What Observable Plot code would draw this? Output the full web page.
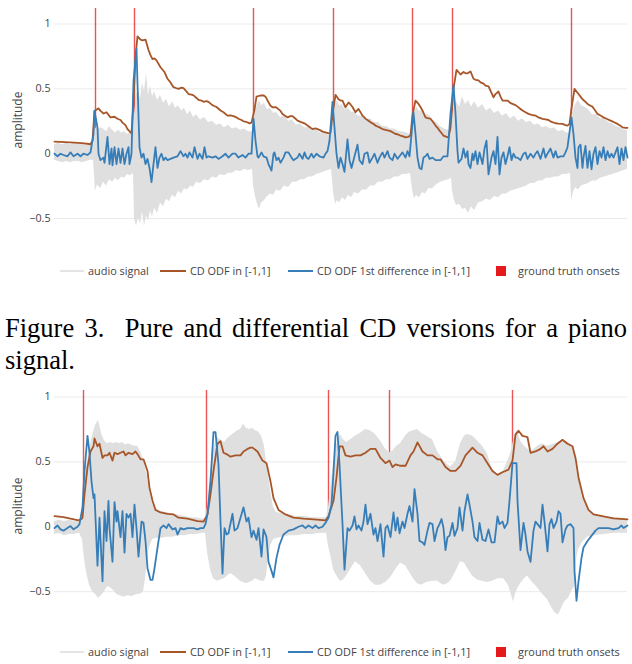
<!DOCTYPE html>
<html>
<head>
<meta charset="utf-8">
<script src="https://cdn.jsdelivr.net/npm/d3@7"></script>
<script src="https://cdn.jsdelivr.net/npm/@observablehq/plot@0.6"></script>
<style>
  html, body { margin: 0; padding: 0; background: #fff; }
  #page { position: relative; width: 632px; height: 664px; overflow: hidden; background: #fff; }
  .abs { position: absolute; left: 0; }
  .legend { position: absolute; left: 0; width: 632px; height: 16px; font-family: "Open Sans", sans-serif; font-size: 10.9px; color: #444; }
  .legend .sw { position: absolute; top: 7px; height: 2px; }
  .legend .sq { position: absolute; top: 3px; width: 10px; height: 10px; }
  .legend .tx { position: absolute; top: 0; line-height: 16px; white-space: nowrap; }
  #caption { position: absolute; left: 5px; width: 622px; font-family: "Liberation Serif", "Times New Roman", serif; font-size: 26.5px; line-height: 32px; text-align: justify; color: #000; }
</style>
</head>
<body>
<div id="page">
  <div id="p1" class="abs" style="top:0"></div>
  <div id="leg1" class="legend" style="top:263px"></div>
  <div id="caption" style="top:312px">Figure 3.&nbsp; Pure and differential CD versions for a piano signal.</div>
  <div id="p2" class="abs" style="top:380px"></div>
  <div id="leg2" class="legend" style="top:644px"></div>
</div>
<script>
// ---------- legend / tick labels ----------
const seriesNames = ["audio signal", "CD ODF in [-1,1]", "CD ODF 1st difference in [-1,1]", "ground truth onsets"];
const yTicks = [-0.5, 0, 0.5, 1];
const yLabel = "amplitude";

// ---------- panel 1 (piano) : frame index t, amplitude ----------
const onsets1 = [41, 80, 199, 279, 358, 398, 517];
const odf1 = [[0,0.093],[10,0.09],[20,0.085],[30,0.08],[36,0.073],[38,0.10],[40,0.33],[44,0.35],[46,0.33],[49,0.31],[52,0.32],[56,0.28],[60,0.285],[63,0.27],[66,0.26],[68,0.24],[71,0.22],[73,0.19],[77,0.157],[79,0.40],[81,0.75],[83,0.905],[86,0.88],[88,0.874],[91,0.88],[94,0.80],[96,0.76],[98,0.73],[100,0.735],[102,0.72],[106,0.667],[110,0.63],[113,0.578],[116,0.55],[119,0.513],[122,0.505],[124,0.50],[127,0.51],[129,0.506],[132,0.48],[134,0.46],[137,0.455],[139,0.45],[142,0.43],[144,0.415],[147,0.41],[149,0.40],[152,0.405],[154,0.40],[157,0.38],[159,0.37],[162,0.36],[166,0.333],[169,0.32],[173,0.294],[176,0.295],[179,0.29],[182,0.28],[184,0.27],[187,0.26],[189,0.25],[192,0.245],[195,0.234],[197,0.24],[200,0.34],[202,0.44],[206,0.449],[209,0.45],[211,0.44],[214,0.397],[216,0.37],[218,0.358],[221,0.36],[223,0.35],[226,0.33],[228,0.307],[231,0.29],[233,0.28],[236,0.29],[238,0.29],[241,0.27],[243,0.255],[246,0.245],[248,0.24],[251,0.23],[253,0.217],[256,0.2],[258,0.19],[261,0.195],[263,0.19],[266,0.18],[268,0.17],[271,0.165],[274,0.157],[276,0.16],[278,0.3],[281,0.454],[284,0.42],[286,0.41],[288,0.41],[291,0.358],[294,0.395],[296,0.38],[298,0.36],[301,0.32],[304,0.345],[306,0.32],[308,0.294],[311,0.27],[313,0.26],[316,0.242],[318,0.235],[321,0.217],[323,0.21],[326,0.199],[328,0.19],[331,0.183],[333,0.18],[336,0.174],[338,0.165],[341,0.152],[343,0.15],[346,0.14],[348,0.135],[351,0.126],[354,0.13],[356,0.14],[358,0.3],[361,0.41],[364,0.384],[366,0.36],[368,0.333],[371,0.28],[373,0.275],[376,0.27],[378,0.25],[381,0.217],[383,0.2],[385,0.178],[387,0.16],[389,0.139],[392,0.13],[394,0.126],[396,0.2],[399,0.50],[402,0.647],[404,0.63],[406,0.611],[409,0.63],[411,0.62],[413,0.62],[416,0.635],[419,0.578],[421,0.57],[424,0.565],[426,0.55],[429,0.54],[431,0.525],[434,0.52],[437,0.47],[439,0.435],[441,0.46],[444,0.48],[446,0.44],[448,0.41],[451,0.41],[453,0.41],[456,0.39],[458,0.384],[461,0.375],[463,0.363],[466,0.345],[468,0.333],[471,0.32],[474,0.307],[477,0.3],[481,0.294],[484,0.28],[488,0.268],[491,0.265],[494,0.26],[497,0.245],[501,0.235],[504,0.232],[508,0.23],[511,0.22],[513,0.217],[515,0.23],[517,0.35],[520,0.50],[522,0.48],[524,0.46],[526,0.44],[528,0.42],[531,0.4],[533,0.384],[536,0.37],[538,0.363],[541,0.33],[543,0.307],[546,0.295],[549,0.28],[552,0.27],[556,0.255],[559,0.245],[563,0.23],[566,0.215],[568,0.203],[571,0.2],[573,0.2]];
const diff1 = [[0,0],[3,-0.02],[6,0],[9,-0.01],[13,-0.02],[16,0.01],[19,-0.02],[23,0],[26,-0.02],[29,0],[33,-0.01],[36,0.01],[39,0.15],[40,0.33],[43,0.2],[44,0],[46,-0.05],[49,-0.03],[50,-0.07],[53,0.13],[55,-0.08],[57,0.04],[58,-0.09],[60,0.05],[62,-0.08],[64,0.04],[66,-0.07],[68,0.04],[70,-0.08],[72,0],[74,0.05],[75,-0.08],[77,0],[79,0.56],[82,0.81],[83,0.54],[85,0.05],[87,-0.03],[89,0],[91,-0.08],[93,-0.04],[95,-0.11],[97,-0.22],[99,-0.08],[101,0.05],[103,-0.11],[105,-0.03],[107,0],[109,-0.05],[111,-0.03],[113,-0.05],[116,-0.04],[119,-0.03],[123,-0.02],[126,0.02],[129,-0.02],[131,0],[133,-0.03],[135,0.01],[138,-0.03],[140,0.05],[143,-0.04],[145,0],[148,-0.04],[150,0.05],[152,-0.03],[154,-0.02],[158,-0.03],[161,-0.02],[164,-0.04],[168,-0.02],[171,0],[174,-0.03],[178,0],[181,0],[184,-0.03],[188,-0.01],[191,-0.03],[194,0],[197,0],[199,0.27],[201,0.1],[203,-0.02],[204,-0.03],[207,0.01],[209,-0.02],[212,-0.03],[214,-0.08],[217,-0.13],[219,0],[220,0.01],[222,-0.05],[224,-0.03],[226,-0.07],[229,-0.03],[231,0.01],[234,0.01],[237,-0.03],[239,-0.05],[243,-0.03],[245,0],[248,-0.04],[250,0.01],[252,-0.03],[254,-0.04],[257,0],[259,-0.03],[262,0],[265,-0.02],[269,-0.03],[271,0],[273,0.02],[275,0.1],[278,0.4],[280,0.2],[282,0],[284,-0.11],[286,-0.03],[288,-0.08],[290,-0.14],[293,0.11],[295,-0.05],[297,-0.11],[299,-0.05],[301,0.01],[303,0.07],[305,-0.05],[308,-0.08],[310,0],[313,0.01],[315,-0.07],[318,-0.03],[320,0],[323,-0.07],[325,-0.03],[328,0.01],[330,-0.03],[333,0.02],[335,-0.03],[338,-0.05],[340,0],[343,-0.04],[345,-0.02],[348,0.01],[351,-0.03],[353,0.02],[355,-0.02],[359,0.32],[361,0.15],[363,-0.03],[365,-0.11],[367,-0.12],[369,-0.03],[371,-0.02],[373,0],[375,-0.04],[378,-0.03],[381,-0.05],[384,-0.05],[386,-0.05],[389,-0.02],[393,-0.02],[396,0.31],[399,0.53],[401,0.31],[403,0.02],[404,-0.07],[407,-0.04],[409,0.04],[411,-0.03],[413,0.02],[414,-0.08],[416,-0.11],[418,0],[419,-0.05],[421,0.02],[423,-0.08],[425,0.01],[428,-0.08],[430,0.04],[432,0.1],[434,-0.16],[437,-0.03],[439,0.02],[441,-0.08],[443,0.13],[445,-0.16],[447,-0.03],[449,0.01],[451,-0.08],[453,-0.02],[455,0.05],[457,-0.05],[459,0],[461,-0.03],[463,-0.03],[466,-0.05],[469,0],[471,0.01],[473,-0.04],[476,0],[479,-0.03],[481,0],[483,0.02],[486,-0.04],[489,0.04],[491,-0.03],[493,0],[496,0.04],[499,-0.03],[501,0.02],[503,-0.03],[506,-0.02],[509,-0.02],[511,0.01],[513,0.05],[517,0.28],[519,0.15],[521,-0.03],[523,-0.11],[524,0.05],[526,0.07],[528,-0.11],[529,-0.03],[531,0.06],[533,-0.11],[535,0.02],[537,-0.12],[539,0],[541,0.05],[543,-0.08],[545,0.02],[547,-0.03],[549,0.05],[551,-0.05],[553,0.02],[555,-0.03],[557,0],[559,-0.03],[561,0.01],[563,0.05],[565,-0.08],[567,0.04],[569,-0.05],[571,0.05],[573,-0.03]];
// audio signal envelope: [t, upper, lower]
const audio1 = [[0,0.07,-0.05],[4,0.08,-0.06],[8,0.07,-0.07],[12,0.08,-0.06],[16,0.07,-0.07],[20,0.08,-0.06],[24,0.07,-0.06],[28,0.08,-0.07],[32,0.07,-0.06],[36,0.07,-0.05],[39,0.06,-0.05],[41,0.20,-0.29],[43,0.18,-0.24],[46,0.20,-0.27],[49,0.19,-0.22],[52,0.17,-0.25],[55,0.21,-0.20],[58,0.18,-0.22],[61,0.16,-0.19],[64,0.18,-0.21],[67,0.16,-0.18],[70,0.17,-0.19],[73,0.15,-0.16],[76,0.16,-0.17],[79,0.15,-0.15],[80,0.30,-0.50],[82,0.45,-0.56],[84,0.50,-0.50],[86,0.42,-0.54],[88,0.55,-0.45],[90,0.48,-0.56],[92,0.62,-0.48],[94,0.45,-0.52],[96,0.52,-0.44],[98,0.44,-0.49],[100,0.48,-0.42],[103,0.41,-0.46],[106,0.45,-0.38],[109,0.39,-0.41],[112,0.42,-0.35],[115,0.36,-0.37],[118,0.40,-0.32],[121,0.35,-0.34],[124,0.37,-0.29],[127,0.33,-0.31],[130,0.35,-0.27],[133,0.30,-0.28],[136,0.33,-0.25],[139,0.28,-0.26],[142,0.30,-0.22],[146,0.26,-0.23],[150,0.28,-0.20],[154,0.24,-0.21],[158,0.25,-0.18],[162,0.22,-0.19],[166,0.23,-0.16],[170,0.20,-0.17],[174,0.22,-0.15],[178,0.19,-0.15],[182,0.20,-0.13],[186,0.18,-0.14],[190,0.19,-0.12],[194,0.17,-0.13],[198,0.17,-0.12],[199,0.28,-0.25],[201,0.33,-0.33],[203,0.38,-0.39],[205,0.41,-0.43],[207,0.37,-0.38],[210,0.39,-0.36],[213,0.34,-0.33],[216,0.35,-0.31],[219,0.31,-0.32],[222,0.32,-0.28],[226,0.28,-0.29],[230,0.29,-0.25],[234,0.25,-0.26],[238,0.26,-0.22],[242,0.22,-0.22],[246,0.23,-0.20],[250,0.20,-0.20],[254,0.20,-0.18],[258,0.18,-0.18],[262,0.18,-0.16],[266,0.16,-0.15],[270,0.16,-0.14],[274,0.14,-0.13],[277,0.14,-0.12],[279,0.35,-0.30],[281,0.38,-0.39],[283,0.41,-0.36],[285,0.37,-0.38],[288,0.38,-0.34],[291,0.34,-0.36],[294,0.35,-0.32],[297,0.32,-0.34],[300,0.32,-0.30],[304,0.29,-0.31],[308,0.29,-0.28],[312,0.26,-0.28],[316,0.27,-0.25],[320,0.24,-0.25],[324,0.24,-0.22],[328,0.21,-0.22],[332,0.21,-0.20],[336,0.19,-0.20],[340,0.19,-0.18],[344,0.17,-0.18],[348,0.17,-0.16],[352,0.16,-0.16],[356,0.15,-0.15],[358,0.30,-0.28],[360,0.32,-0.35],[362,0.36,-0.32],[365,0.33,-0.34],[368,0.33,-0.30],[371,0.30,-0.31],[374,0.30,-0.27],[378,0.26,-0.27],[382,0.24,-0.24],[386,0.21,-0.22],[390,0.19,-0.21],[394,0.18,-0.20],[397,0.17,-0.19],[398,0.30,-0.29],[400,0.38,-0.36],[402,0.40,-0.40],[405,0.36,-0.39],[408,0.44,-0.43],[411,0.38,-0.42],[414,0.41,-0.46],[417,0.36,-0.41],[420,0.40,-0.44],[424,0.35,-0.38],[428,0.38,-0.37],[432,0.33,-0.35],[436,0.35,-0.36],[440,0.31,-0.33],[444,0.33,-0.34],[448,0.29,-0.31],[452,0.31,-0.31],[456,0.27,-0.29],[460,0.29,-0.28],[464,0.25,-0.27],[468,0.27,-0.26],[472,0.24,-0.25],[476,0.25,-0.23],[480,0.22,-0.23],[484,0.23,-0.21],[488,0.20,-0.21],[492,0.21,-0.19],[496,0.19,-0.19],[500,0.20,-0.18],[504,0.17,-0.18],[508,0.18,-0.16],[512,0.16,-0.16],[516,0.16,-0.15],[517,0.30,-0.36],[519,0.33,-0.30],[521,0.38,-0.26],[524,0.41,-0.28],[527,0.37,-0.25],[530,0.36,-0.24],[534,0.34,-0.23],[538,0.30,-0.21],[542,0.30,-0.21],[546,0.27,-0.19],[550,0.27,-0.18],[554,0.24,-0.17],[558,0.23,-0.16],[562,0.21,-0.15],[566,0.20,-0.14],[570,0.18,-0.13],[573,0.18,-0.12]];

// ---------- panel 2 ----------
const onsets2 = [29, 152, 274, 335, 458];
const odf2 = [[0,0.082],[9,0.075],[16,0.062],[24,0.05],[27,0.06],[28,0.07],[30,0.25],[33,0.46],[36,0.58],[39,0.62],[40,0.68],[43,0.62],[45,0.64],[48,0.53],[50,0.55],[53,0.55],[55,0.57],[58,0.51],[60,0.57],[63,0.56],[66,0.57],[69,0.58],[71,0.55],[74,0.57],[78,0.56],[81,0.58],[83,0.56],[86,0.52],[89,0.52],[93,0.43],[95,0.30],[98,0.20],[101,0.13],[106,0.11],[113,0.10],[119,0.095],[124,0.07],[133,0.062],[143,0.044],[149,0.039],[153,0.095],[156,0.25],[159,0.43],[163,0.64],[166,0.66],[169,0.57],[172,0.56],[176,0.54],[181,0.55],[186,0.55],[189,0.58],[193,0.60],[196,0.61],[198,0.61],[203,0.58],[208,0.51],[212,0.49],[216,0.35],[219,0.22],[224,0.13],[231,0.095],[239,0.07],[249,0.062],[259,0.057],[271,0.05],[274,0.08],[279,0.20],[282,0.38],[285,0.62],[288,0.62],[291,0.55],[296,0.54],[301,0.55],[306,0.55],[311,0.57],[316,0.60],[321,0.60],[326,0.53],[331,0.49],[335,0.51],[338,0.46],[341,0.48],[346,0.47],[351,0.47],[356,0.55],[359,0.58],[363,0.65],[368,0.58],[373,0.55],[378,0.55],[383,0.52],[386,0.52],[391,0.46],[396,0.43],[401,0.43],[406,0.47],[411,0.55],[418,0.61],[423,0.57],[428,0.55],[433,0.49],[438,0.43],[443,0.40],[448,0.42],[454,0.44],[458,0.51],[461,0.71],[464,0.74],[468,0.70],[473,0.69],[476,0.57],[481,0.58],[486,0.60],[489,0.62],[493,0.58],[498,0.60],[503,0.64],[508,0.67],[513,0.64],[518,0.62],[521,0.53],[524,0.38],[529,0.22],[534,0.13],[539,0.095],[549,0.08],[559,0.064],[573,0.057]];
const diff2 = [[0,-0.01],[3,0.01],[6,-0.02],[9,-0.03],[13,-0.01],[16,0.005],[19,-0.02],[23,0],[25,0.02],[28,0.15],[30,0.43],[33,0.70],[35,0.57],[37,0.35],[39,0.22],[40,0.25],[43,-0.30],[45,0.07],[48,-0.42],[50,0.12],[52,-0.11],[54,0.20],[55,-0.01],[58,-0.27],[60,0.19],[62,0.04],[63,0.12],[66,-0.08],[68,0.12],[70,-0.20],[72,0.10],[74,0.07],[76,0.10],[78,-0.08],[80,0.17],[82,-0.01],[84,-0.23],[87,0.04],[89,0.03],[91,-0.11],[93,-0.32],[96,-0.41],[98,-0.41],[100,-0.32],[103,-0.16],[106,-0.01],[109,0.01],[112,-0.01],[114,0.02],[118,-0.02],[121,-0.01],[123,-0.06],[126,-0.01],[129,-0.02],[133,-0.01],[136,-0.01],[139,-0.01],[143,-0.02],[146,-0.01],[149,-0.01],[151,0.02],[153,0.10],[156,0.35],[159,0.73],[161,0.73],[164,0.48],[166,0.04],[168,-0.36],[170,-0.01],[172,-0.06],[174,-0.05],[178,0.10],[180,-0.03],[183,-0.01],[186,0.07],[189,0.15],[192,0.04],[194,0.07],[197,-0.08],[199,-0.03],[202,-0.10],[204,-0.01],[207,-0.23],[209,-0.02],[212,-0.08],[214,-0.27],[217,-0.34],[219,-0.39],[222,-0.24],[225,-0.14],[229,-0.06],[234,-0.03],[239,-0.02],[244,0],[248,0.01],[251,-0.01],[254,0.01],[258,-0.01],[261,0.01],[264,-0.01],[268,0],[271,0.03],[274,0.07],[277,0.17],[279,0.42],[281,0.70],[283,0.73],[285,0.48],[288,0.02],[290,-0.33],[293,-0.01],[295,-0.03],[298,0.01],[300,0.08],[302,-0.02],[304,0.01],[307,-0.03],[309,0.04],[311,0.17],[313,0.02],[316,0.10],[319,-0.06],[321,-0.01],[323,-0.11],[326,0.02],[329,-0.23],[331,-0.01],[333,0.01],[336,-0.08],[339,0.11],[341,-0.03],[343,0.07],[345,-0.05],[348,0.04],[350,-0.01],[353,0.10],[355,0.16],[358,0.04],[360,0.29],[363,0.10],[365,-0.11],[368,-0.12],[370,-0.14],[373,-0.03],[375,0.03],[378,0.02],[380,-0.11],[383,-0.01],[385,0.02],[387,0.06],[389,-0.01],[391,-0.18],[393,-0.08],[395,-0.07],[398,0.03],[400,-0.07],[403,-0.01],[405,0.15],[408,-0.03],[410,0.12],[413,0.25],[415,0.17],[418,0.04],[420,-0.08],[423,-0.11],[425,0.03],[428,-0.10],[431,-0.11],[434,-0.02],[437,-0.12],[440,-0.12],[443,0.08],[445,0.02],[448,0.04],[450,-0.01],[453,0.03],[455,0.20],[458,0.49],[460,0.49],[462,0.49],[463,0.20],[466,-0.18],[469,0.03],[471,-0.06],[473,-0.19],[476,-0.27],[479,-0.03],[481,0.04],[483,0.02],[486,-0.01],[488,0.17],[490,0.04],[493,-0.19],[495,0.02],[497,0.06],[499,-0.01],[502,0.04],[504,0.12],[506,0.10],[508,-0.12],[511,-0.02],[513,0.01],[516,0.02],[519,-0.01],[520,-0.34],[522,-0.57],[524,-0.42],[527,-0.24],[529,-0.16],[533,-0.11],[536,-0.08],[541,-0.03],[544,-0.01],[549,-0.01],[554,-0.01],[559,-0.02],[564,-0.01],[567,0.01],[569,-0.01],[573,0.01]];
const audio2 = [[0,0.04,-0.06],[5,0.05,-0.05],[10,0.04,-0.07],[15,0.05,-0.06],[20,0.04,-0.06],[25,0.05,-0.05],[28,0.10,-0.10],[30,0.30,-0.25],[32,0.45,-0.35],[35,0.60,-0.45],[38,0.70,-0.50],[41,0.78,-0.52],[44,0.82,-0.55],[47,0.72,-0.53],[50,0.66,-0.50],[53,0.64,-0.46],[56,0.65,-0.47],[59,0.64,-0.49],[62,0.65,-0.52],[65,0.64,-0.53],[68,0.65,-0.54],[71,0.63,-0.54],[74,0.64,-0.53],[77,0.63,-0.54],[80,0.62,-0.53],[83,0.62,-0.52],[86,0.58,-0.52],[89,0.52,-0.50],[91,0.45,-0.40],[93,0.38,-0.25],[95,0.28,-0.16],[98,0.18,-0.10],[101,0.13,-0.09],[106,0.12,-0.09],[112,0.11,-0.08],[118,0.10,-0.08],[124,0.09,-0.07],[130,0.08,-0.07],[136,0.07,-0.06],[142,0.07,-0.06],[148,0.06,-0.05],[151,0.06,-0.05],[153,0.15,-0.20],[156,0.40,-0.33],[159,0.60,-0.40],[163,0.69,-0.42],[166,0.67,-0.41],[170,0.65,-0.40],[173,0.68,-0.38],[176,0.70,-0.36],[180,0.72,-0.38],[183,0.74,-0.40],[186,0.75,-0.42],[189,0.79,-0.43],[192,0.76,-0.44],[195,0.75,-0.43],[198,0.76,-0.42],[201,0.74,-0.40],[204,0.73,-0.41],[207,0.70,-0.42],[210,0.62,-0.42],[212,0.50,-0.38],[214,0.40,-0.25],[216,0.28,-0.15],[219,0.15,-0.10],[222,0.11,-0.09],[228,0.10,-0.08],[235,0.09,-0.07],[242,0.08,-0.07],[250,0.08,-0.06],[258,0.07,-0.06],[266,0.07,-0.05],[272,0.07,-0.05],[274,0.15,-0.15],[277,0.35,-0.25],[279,0.50,-0.33],[281,0.60,-0.36],[284,0.68,-0.40],[286,0.71,-0.42],[289,0.67,-0.41],[292,0.65,-0.38],[296,0.67,-0.33],[301,0.70,-0.27],[306,0.72,-0.30],[311,0.75,-0.36],[316,0.74,-0.42],[321,0.71,-0.45],[326,0.66,-0.45],[331,0.60,-0.43],[335,0.57,-0.40],[338,0.58,-0.37],[342,0.62,-0.32],[346,0.64,-0.28],[351,0.70,-0.30],[355,0.73,-0.35],[359,0.74,-0.40],[363,0.75,-0.44],[367,0.72,-0.45],[372,0.70,-0.43],[378,0.67,-0.42],[383,0.58,-0.42],[389,0.51,-0.45],[393,0.48,-0.44],[396,0.46,-0.42],[401,0.50,-0.35],[406,0.64,-0.27],[410,0.70,-0.28],[413,0.71,-0.32],[418,0.70,-0.38],[423,0.66,-0.41],[428,0.62,-0.42],[433,0.56,-0.43],[438,0.44,-0.42],[443,0.40,-0.40],[449,0.43,-0.40],[454,0.52,-0.45],[456,0.56,-0.50],[459,0.66,-0.58],[461,0.72,-0.52],[463,0.74,-0.48],[466,0.66,-0.44],[470,0.62,-0.40],[473,0.60,-0.38],[477,0.58,-0.42],[483,0.62,-0.47],[488,0.64,-0.52],[493,0.62,-0.56],[497,0.63,-0.62],[500,0.64,-0.66],[504,0.65,-0.68],[507,0.66,-0.63],[510,0.66,-0.58],[514,0.65,-0.55],[517,0.63,-0.50],[520,0.58,-0.46],[522,0.45,-0.25],[524,0.38,-0.18],[528,0.22,-0.12],[533,0.14,-0.08],[539,0.10,-0.07],[549,0.08,-0.06],[560,0.07,-0.05],[573,0.06,-0.05]];

// ---------- styling ----------
const C = { audio: "#dfdfdf", audioLegend: "#e4e4e4", odf: "#a65628", diff: "#377eb8", onset: "#e41a1c", grid: "#ebebeb", text: "#444" };
const fmt = d => d < 0 ? "\u2212" + (-d) : String(d);

function panel(opts) {
  const odf = opts.odf.map(([t, v]) => ({t, v}));
  const diff = opts.diff.map(([t, v]) => ({t, v}));
  const audio = opts.audio.map(([t, hi, lo]) => ({t, hi, lo}));
  return Plot.plot({
    width: 632, height: opts.height,
    marginLeft: 54, marginRight: 5, marginTop: opts.mt, marginBottom: opts.mb,
    style: { fontFamily: "'Open Sans', sans-serif", fontSize: "10.7px", color: C.text, background: "#fff" },
    x: { domain: [0, 573], axis: null },
    y: { domain: opts.ydomain, axis: null },
    marks: [
      Plot.gridY(yTicks, { stroke: C.grid, strokeOpacity: 1, strokeWidth: 1 }),
      Plot.ruleX(opts.onsets, { x: d => d, y1: 0, y2: opts.ydomain[1], stroke: C.onset, strokeWidth: 1.4, strokeOpacity: 0.75 }),
      Plot.areaY(audio, { x: "t", y1: "lo", y2: "hi", fill: C.audio, fillOpacity: 1 }),
      Plot.line(odf, { x: "t", y: "v", stroke: C.odf, strokeWidth: 1.8 }),
      Plot.line(diff, { x: "t", y: "v", stroke: C.diff, strokeWidth: 1.8 }),
      Plot.axisY(yTicks, { tickSize: 0, tickPadding: 4, tickFormat: fmt, label: null, fill: C.text }),
      Plot.text([yLabel], { frameAnchor: "left", textAnchor: "middle", rotate: -90, dx: -36, fontSize: 12, fill: C.text })
    ]
  });
}

document.getElementById("p1").appendChild(panel({ onsets: onsets1, odf: odf1, diff: diff1, audio: audio1, height: 240, mt: 8, mb: 9, ydomain: [-0.6, 1.12] }));
document.getElementById("p2").appendChild(panel({ onsets: onsets2, odf: odf2, diff: diff2, audio: audio2, height: 251, mt: 10, mb: 10, ydomain: [-0.73, 1.05] }));

function legend(el) {
  const items = [
    { kind: "line", color: C.audioLegend, x0: 60, x1: 84, tx: 88 },
    { kind: "line", color: C.odf, x0: 160, x1: 186, tx: 190 },
    { kind: "line", color: C.diff, x0: 288, x1: 313, tx: 317 },
    { kind: "sq", color: C.onset, x0: 496, tx: 518 }
  ];
  items.forEach((it, i) => {
    const s = document.createElement("div");
    if (it.kind === "line") {
      s.className = "sw"; s.style.left = it.x0 + "px"; s.style.width = (it.x1 - it.x0) + "px"; s.style.background = it.color;
    } else {
      s.className = "sq"; s.style.left = it.x0 + "px"; s.style.background = it.color;
    }
    el.appendChild(s);
    const t = document.createElement("div");
    t.className = "tx"; t.style.left = it.tx + "px"; t.textContent = seriesNames[i];
    el.appendChild(t);
  });
}
legend(document.getElementById("leg1"));
legend(document.getElementById("leg2"));
</script>
</body>
</html>
